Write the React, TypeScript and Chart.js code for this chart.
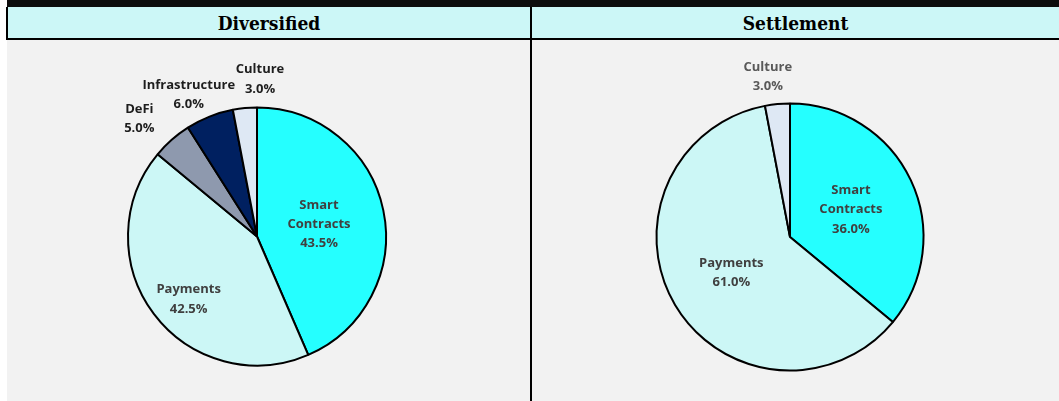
import React, { useEffect, useRef } from 'react';
import { Chart, registerables } from 'chart.js';

Chart.register(...registerables);

// ---- Data ----
const panelTitles = ['Diversified', 'Settlement'];

const diversifiedCategories = ['Smart Contracts', 'Payments', 'DeFi', 'Infrastructure', 'Culture'];
const diversifiedValues = [43.5, 42.5, 5.0, 6.0, 3.0];

const settlementCategories = ['Smart Contracts', 'Payments', 'Culture'];
const settlementValues = [36.0, 61.0, 3.0];

// ---- Styles ----
const categoryColors: Record<string, string> = {
  'Smart Contracts': '#25FFFF',
  Payments: '#CCF7F6',
  DeFi: '#8E99AE',
  Infrastructure: '#002060',
  Culture: '#DEE8F4',
};

const sliceLabelPlugin = {
  id: 'sliceLabels',
  afterDatasetsDraw(chart: any, _args: any, opts: any) {
    const meta = chart.getDatasetMeta(0);
    const ds = chart.data.datasets[0];
    const ctx = chart.ctx;
    ctx.save();
    ctx.font = `bold ${opts.fontSize}px "Open Sans"`;
    ctx.textAlign = 'center';
    ctx.textBaseline = 'middle';
    meta.data.forEach((arc: any, i: number) => {
      const p = arc.getProps(['x', 'y', 'startAngle', 'endAngle', 'outerRadius'], true);
      const mid = (p.startAngle + p.endAngle) / 2 + ((opts.angleShift[i] || 0) * Math.PI) / 180;
      const r = p.outerRadius * opts.radius[i];
      const cx = p.x + Math.cos(mid) * r;
      const cy = p.y + Math.sin(mid) * r;
      const name: string = chart.data.labels[i];
      const lines = opts.radius[i] < 1 ? name.split(' ') : [name];
      lines.push(Number(ds.data[i]).toFixed(1) + '%');
      ctx.fillStyle = opts.colors[i];
      const lh = opts.lineHeight;
      lines.forEach((t: string, k: number) => {
        ctx.fillText(t, cx, cy + (k - (lines.length - 1) / 2) * lh);
      });
    });
    ctx.restore();
  },
};

type PieProps = {
  categories: string[];
  values: number[];
  left: number;
  top: number;
  width: number;
  height: number;
  radius: number;
  padding: { left: number; right: number; top: number; bottom: number };
  labelOpts: any;
};

function PieChart(props: PieProps) {
  const ref = useRef<HTMLCanvasElement>(null);
  useEffect(() => {
    const chart = new Chart(ref.current as HTMLCanvasElement, {
      type: 'pie',
      data: {
        labels: props.categories,
        datasets: [
          {
            data: props.values,
            backgroundColor: props.categories.map((c) => categoryColors[c]),
            borderColor: '#000000',
            borderWidth: 2,
          },
        ],
      },
      options: {
        animation: false,
        responsive: false,
        maintainAspectRatio: false,
        radius: props.radius,
        events: [],
        layout: { padding: props.padding },
        plugins: {
          legend: { display: false },
          tooltip: { enabled: false },
          sliceLabels: props.labelOpts,
        } as any,
      } as any,
      plugins: [sliceLabelPlugin],
    });
    return () => chart.destroy();
  }, []);
  return (
    <canvas
      ref={ref}
      width={props.width}
      height={props.height}
      style={{ position: 'absolute', left: props.left, top: props.top, width: props.width, height: props.height }}
    />
  );
}

const headerFont = '"DejaVu Serif Condensed", "Liberation Serif", serif';

const headerStyle: React.CSSProperties = {
  position: 'absolute',
  top: 7,
  height: 31,
  display: 'flex',
  alignItems: 'center',
  justifyContent: 'center',
  fontFamily: headerFont,
  fontWeight: 'bold',
  fontSize: 19,
  color: '#000',
};

export default function App() {
  return (
    <div style={{ position: 'absolute', left: 0, top: 0, width: 1059, height: 401, background: '#ffffff', overflow: 'hidden' }}>
      {/* top black band */}
      <div style={{ position: 'absolute', left: 7, top: 0, width: 1052, height: 7, background: '#0d0d0d' }} />
      {/* header row */}
      <div style={{ position: 'absolute', left: 6, top: 7, width: 1053, height: 31, background: '#CCF7F7', borderLeft: '2px solid #000', borderBottom: '2px solid #000' }} />
      <div style={{ ...headerStyle, left: 8, width: 522 }}>{panelTitles[0]}</div>
      <div style={{ ...headerStyle, left: 532, width: 527 }}>{panelTitles[1]}</div>
      {/* body */}
      <div style={{ position: 'absolute', left: 7, top: 40, width: 1052, height: 361, background: '#F2F2F2' }} />
      {/* divider */}
      <div style={{ position: 'absolute', left: 530, top: 7, width: 2, height: 394, background: '#000' }} />

      <PieChart
        categories={diversifiedCategories}
        values={diversifiedValues}
        left={8}
        top={40}
        width={522}
        height={361}
        radius={129}
        padding={{ left: 0, right: 24, top: 32, bottom: 0 }}
        labelOpts={{
          fontSize: 13,
          lineHeight: 19.3,
          radius: [0.49, 0.72, 1.29, 1.22, 1.22],
          angleShift: [0.5, -5.7, -3.6, -4.1, 6.5],
          colors: ['#404040', '#404040', '#1e1e1e', '#1e1e1e', '#1e1e1e'],
        }}
      />
      <PieChart
        categories={settlementCategories}
        values={settlementValues}
        left={532}
        top={40}
        width={527}
        height={361}
        radius={133.5}
        padding={{ left: 0, right: 11, top: 33, bottom: 0 }}
        labelOpts={{
          fontSize: 13,
          lineHeight: 19.3,
          radius: [0.5, 0.515, 1.21],
          angleShift: [1, -0.8, -2.5],
          colors: ['#404040', '#404040', '#595959'],
        }}
      />
    </div>
  );
}
